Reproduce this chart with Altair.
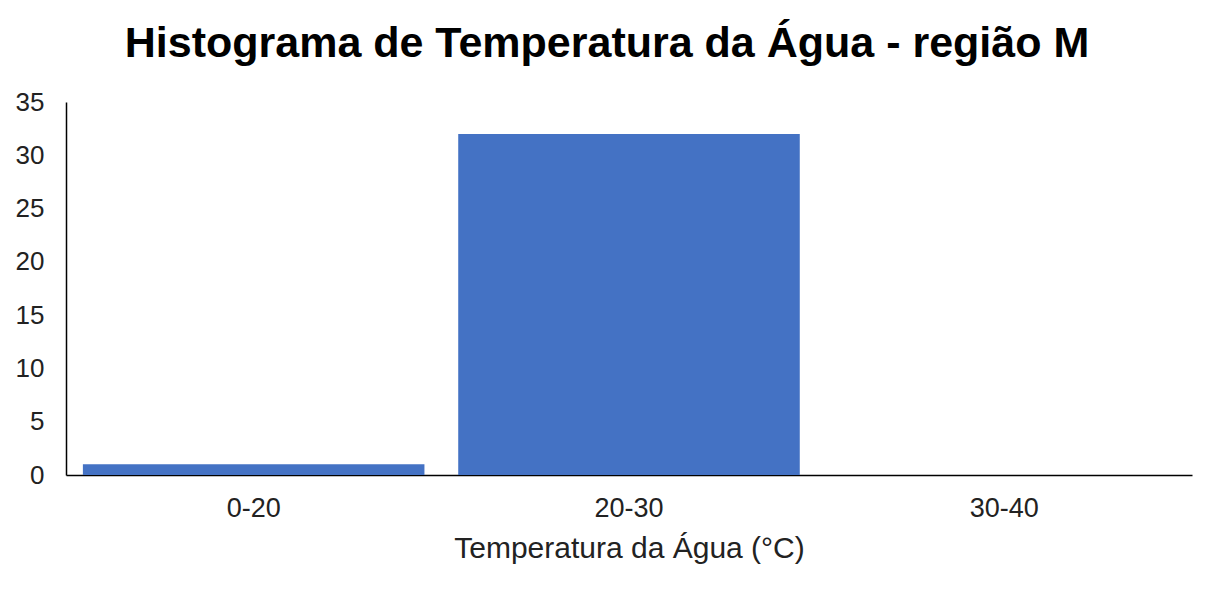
import altair as alt
import pandas as pd

categories = ["0-20", "20-30", "30-40"]
counts = [1, 32, 0]
y_ticks = [0, 5, 10, 15, 20, 25, 30, 35]

df = pd.DataFrame({"faixa": categories, "contagem": counts})

FONT = "Liberation Sans"

chart = alt.Chart(df).mark_bar(color="#4472C4").encode(
    x=alt.X(
        "faixa:N",
        sort=categories,
        scale=alt.Scale(paddingInner=0.09, paddingOuter=0.045),
        axis=alt.Axis(
            title="Temperatura da Água (°C)",
            labelAngle=0,
            labelFont=FONT,
            labelFontSize=27,
            labelColor="#222222",
            labelPadding=20,
            ticks=False,
            domainColor="#000000",
            domainWidth=1.5,
            titleFont=FONT,
            titleFontSize=30,
            titleFontWeight="normal",
            titleColor="#222222",
            titlePadding=12,
        ),
    ),
    y=alt.Y(
        "contagem:Q",
        scale=alt.Scale(domain=[0, 35], nice=False),
        axis=alt.Axis(
            title=None,
            values=y_ticks,
            grid=False,
            ticks=False,
            labelFont=FONT,
            labelFontSize=26,
            labelColor="#222222",
            labelPadding=22,
            domainColor="#000000",
            domainWidth=1.5,
        ),
    ),
).properties(
    width=1126,
    height=373,
    title=alt.TitleParams(
        text="Histograma de Temperatura da Água - região M",
        font=FONT,
        fontSize=43,
        fontWeight="bold",
        color="#000000",
        anchor="middle",
        dx=-22,
        dy=45,
        baseline="alphabetic",
        offset=34,
    ),
    padding={"left": 58, "top": 94, "right": 10, "bottom": 100},
    autosize=alt.AutoSizeParams(type="none"),
).configure_view(stroke=None)

chart.save("out.html", embed_options={"renderer": "svg", "actions": False})
